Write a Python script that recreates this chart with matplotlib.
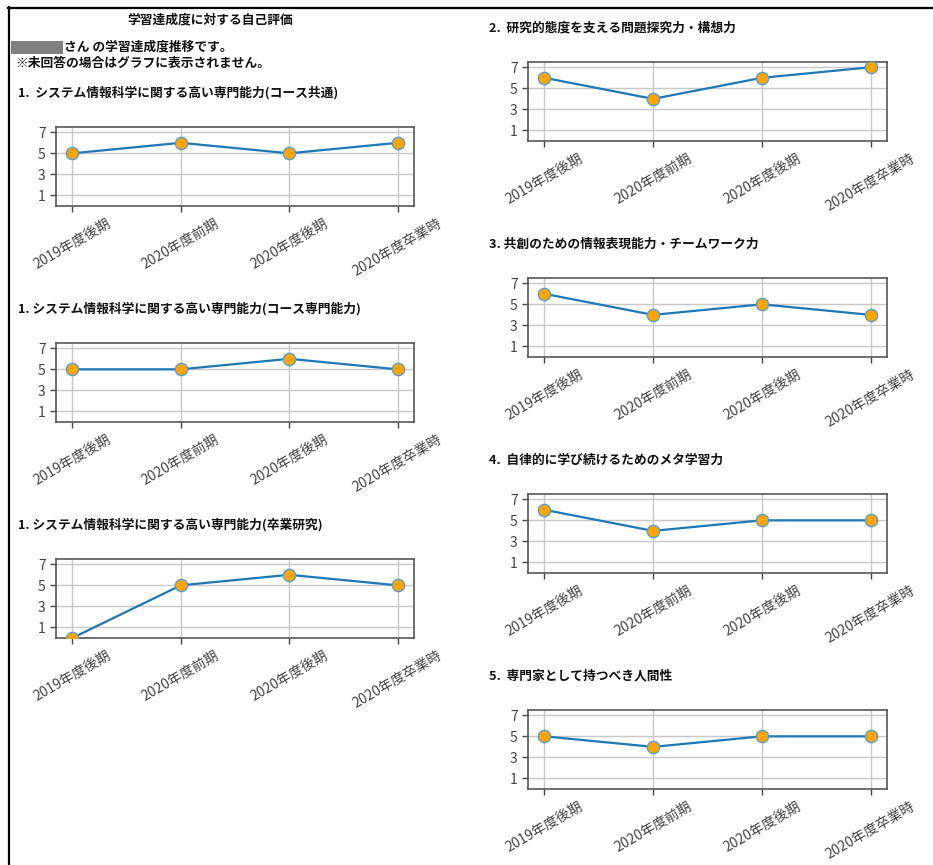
import matplotlib
matplotlib.use("Agg")
import matplotlib.pyplot as plt
from matplotlib.lines import Line2D
from matplotlib.patches import Rectangle

plt.rcParams['font.family'] = ['Noto Sans CJK JP', 'DejaVu Sans']

periods = ["2019年度後期", "2020年度前期", "2020年度後期", "2020年度卒業時"]
yticks = [1, 3, 5, 7]

title_main = "学習達成度に対する自己評価"
line_name = "さん の学習達成度推移です。"
line_note = "※未回答の場合はグラフに表示されません。"

titles_left = [
    "1.  システム情報科学に関する高い専門能力(コース共通)",
    "1. システム情報科学に関する高い専門能力(コース専門能力)",
    "1. システム情報科学に関する高い専門能力(卒業研究)",
]
values_left = [
    [5, 6, 5, 6],
    [5, 5, 6, 5],
    [0, 5, 6, 5],
]
titles_right = [
    "2.  研究的態度を支える問題探究力・構想力",
    "3. 共創のための情報表現能力・チームワーク力",
    "4.  自律的に学び続けるためのメタ学習力",
    "5.  専門家として持つべき人間性",
]
values_right = [
    [6, 4, 6, 7],
    [6, 4, 5, 4],
    [6, 4, 5, 5],
    [5, 4, 5, 5],
]

W, H = 933, 865
fig = plt.figure(figsize=(W / 100, H / 100), dpi=100)
fig.patch.set_facecolor('white')


def px_rect(x0, y0, x1, y1):
    return [x0 / W, 1 - y1 / H, (x1 - x0) / W, (y1 - y0) / H]


def fx(x):
    return x / W


def fy(y):
    return 1 - y / H


def panel(x0, x1, ytop, title, title_x, vals):
    fig.text(fx(title_x), fy(ytop - 34), title, fontsize=9.2, weight='bold',
             color='#111111', ha='left', va='center')
    ax = fig.add_axes(px_rect(x0, ytop, x1, ytop + 79))
    ax.plot(range(len(periods)), vals, color='#1f77b4', lw=1.6, marker='o',
            markersize=8.8, markerfacecolor='#FFA500', markeredgecolor='#5b9bd5',
            markeredgewidth=1.0, zorder=3)
    ax.set_xlim(-0.15, len(periods) - 1 + 0.15)
    ax.set_ylim(0, 7.5)
    ax.set_yticks(yticks)
    ax.set_xticks(range(len(periods)))
    ax.set_xticklabels(periods, rotation=30, ha='center')
    ax.tick_params(labelsize=10, colors='#444444', length=4, width=1)
    ax.grid(True, color='#c8c8c8', lw=1.0)
    ax.set_axisbelow(True)
    for s in ax.spines.values():
        s.set_color('#555555')
        s.set_linewidth(1.2)
    return ax


left_tops = [127, 343, 559]
for t, ttl, v in zip(left_tops, titles_left, values_left):
    panel(56, 414, t, ttl, 18, v)

right_tops = [62, 278, 494, 710]
for t, ttl, v in zip(right_tops, titles_right, values_right):
    panel(528, 887, t, ttl, 489, v)

# header texts
fig.text(fx(210), fy(20), title_main, fontsize=9.2, weight='bold', color='#111111',
         ha='center', va='center')
fig.add_artist(Rectangle((fx(11), fy(54)), (63 - 11) / W, 13 / H,
                         transform=fig.transFigure, facecolor='#808080',
                         edgecolor='none'))
fig.text(fx(64), fy(47), line_name, fontsize=9.2, weight='bold', color='#111111',
         ha='left', va='center')
fig.text(fx(15), fy(63), line_note, fontsize=9.2, weight='bold', color='#111111',
         ha='left', va='center')

# page border
fig.add_artist(Line2D([fx(8), fx(933)], [fy(7.5), fy(7.5)], transform=fig.transFigure,
                      color='black', lw=1.6))
fig.add_artist(Line2D([fx(8.5), fx(8.5)], [fy(7), fy(865)], transform=fig.transFigure,
                      color='black', lw=1.6))

fig.savefig("out.png", dpi=100, facecolor='white')
